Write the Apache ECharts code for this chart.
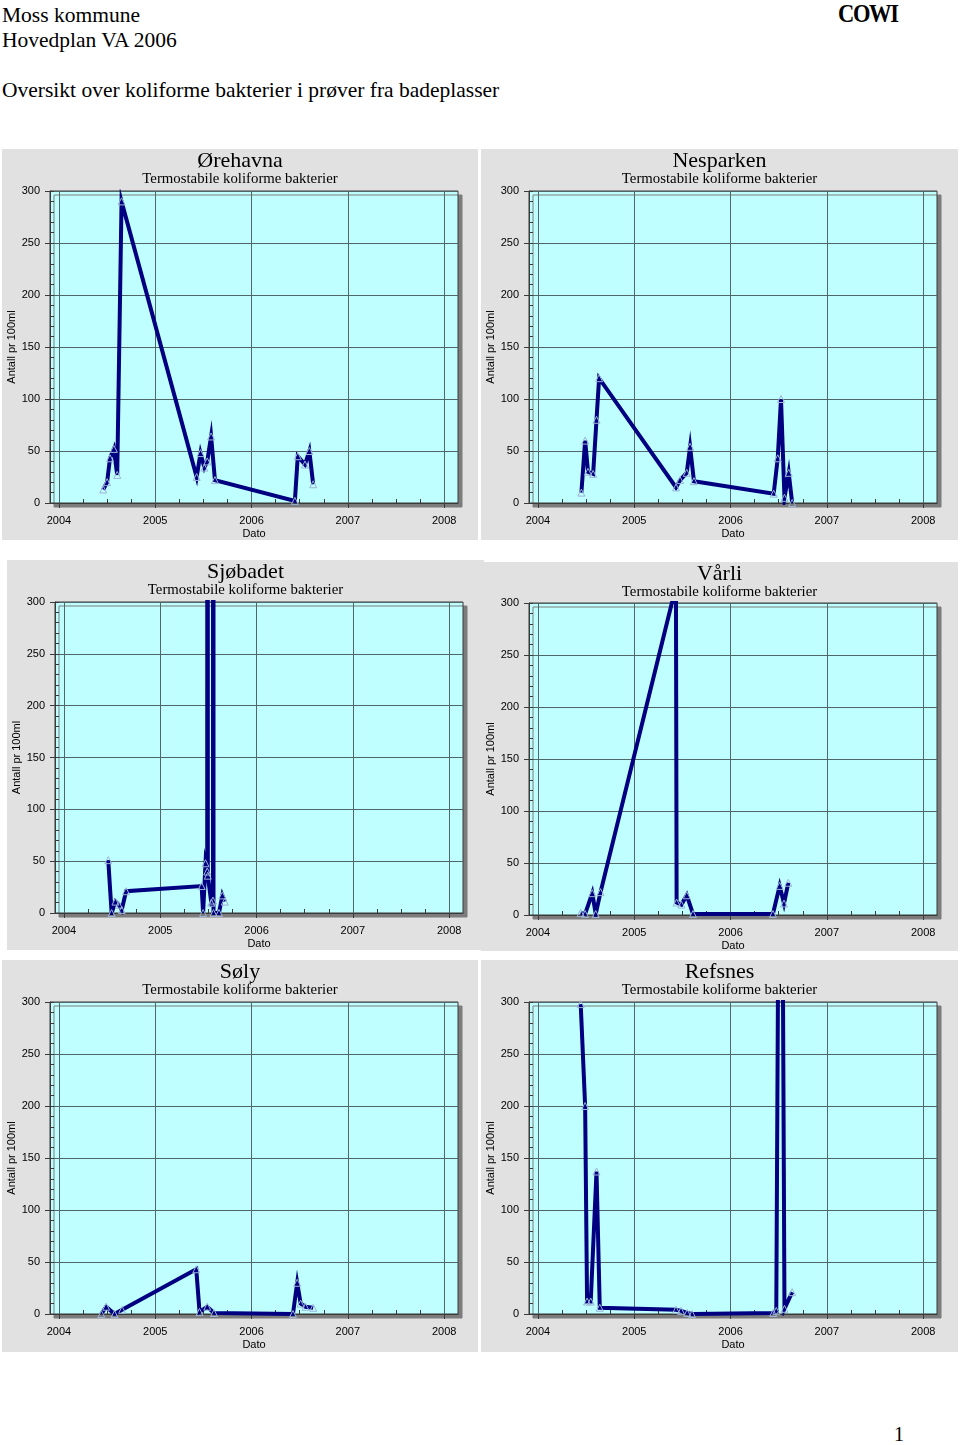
<!DOCTYPE html>
<html>
<head>
<meta charset="utf-8">
<script src="https://cdn.jsdelivr.net/npm/echarts@6/dist/echarts.min.js"></script>
<style>
  html, body { margin: 0; padding: 0; background: #ffffff; }
  body { width: 960px; height: 1445px; position: relative; overflow: hidden;
         font-family: "Liberation Serif", "Times New Roman", serif; color: #000; }
  .t { position: absolute; left: 2px; font-size: 21.5px; line-height: 21px; white-space: nowrap; }
  .cowi { position: absolute; left: 838px; top: 1px; font-size: 25px; line-height: 25px;
          letter-spacing: -1.5px; font-weight: bold; transform: scaleX(0.9); transform-origin: left top; }
  .pg { position: absolute; left: 894px; top: 1424px; font-size: 20px; line-height: 20px; }
  .p { position: absolute; }
</style>
</head>
<body>
<div class="t" style="top:5px">Moss kommune</div>
<div class="t" style="top:30px">Hovedplan VA 2006</div>
<div class="t" style="top:80px">Oversikt over koliforme bakterier i prøver fra badeplasser</div>
<div class="cowi">COWI</div>
<div class="pg">1</div>

<div id="c0" class="p"></div>
<div id="c1" class="p"></div>
<div id="c2" class="p"></div>
<div id="c3" class="p"></div>
<div id="c4" class="p"></div>
<div id="c5" class="p"></div>

<script>
// ---------- data (decimal year, count per 100 ml) ----------
const siteNames = ['Ørehavna', 'Nesparken', 'Sjøbadet', 'Vårli', 'Søly', 'Refsnes'];
const subtitle = 'Termostabile koliforme bakterier';
const yAxisName = 'Antall pr 100ml';
const xAxisName = 'Dato';

const yearTicks = [2004, 2005, 2006, 2007, 2008];
const quarterTicks = [2004.25, 2004.5, 2004.75, 2005.25, 2005.5, 2005.75,
                      2006.25, 2006.5, 2006.75, 2007.25, 2007.5, 2007.75];

const orehavna = [[2004.46,13],[2004.50,20],[2004.53,43],[2004.57,52],[2004.605,27],[2004.65,290],
  [2005.43,25],[2005.47,48],[2005.51,34],[2005.54,40],[2005.58,64],[2005.62,22],
  [2006.45,2],[2006.48,45],[2006.555,37],[2006.60,50],[2006.64,18]];

const nesparken = [[2004.451,10],[2004.49,60],[2004.52,30],[2004.573,28],[2004.608,80],[2004.635,120],
  [2005.434,15],[2005.476,22],[2005.545,29],[2005.58,54],[2005.62,21],
  [2006.448,9],[2006.49,43],[2006.524,100],[2006.56,5],[2006.604,29],[2006.64,0]];

const sjobadet = [[2004.46,51],[2004.495,0],[2004.535,11],[2004.57,8],[2004.60,3],[2004.645,21],
  [2005.43,26],[2005.445,0],[2005.47,48],[2005.488,40],[2005.491,20000],[2005.494,36],[2005.53,10],
  [2005.548,12],[2005.5505,20000],[2005.553,0],[2005.61,0],[2005.645,17],[2005.67,11]];

const varli = [[2004.443,2],[2004.49,1],[2004.564,21],[2004.60,1],[2004.65,22],[2005.433,316],
  [2005.44,12],[2005.49,10],[2005.545,19],[2005.61,1],[2006.44,1],[2006.51,28],[2006.555,11],[2006.60,31]];

const soly = [[2004.44,0],[2004.49,7],[2004.577,0],[2004.656,4],[2005.426,43],[2005.46,2],
  [2005.54,7],[2005.61,1],[2006.43,0],[2006.474,30],[2006.51,10],[2006.56,7],[2006.64,6]];

const refsnes = [[2004.444,298],[2004.49,200],[2004.51,12],[2004.548,12],[2004.608,137],[2004.642,6],
  [2005.434,4],[2005.486,3],[2005.55,1],[2005.60,0],[2006.443,1],[2006.475,3],[2006.52,800],
  [2006.56,5],[2006.64,21]];

const siteData = [orehavna, nesparken, sjobadet, varli, soly, refsnes];

// ---------- layout ----------
const panels = [
  { left: 2,   top: 149, w: 476, h: 391, gTop: 42, gH: 312 },
  { left: 481, top: 149, w: 477, h: 391, gTop: 42, gH: 312 },
  { left: 7,   top: 560, w: 477, h: 390, gTop: 42, gH: 311 },
  { left: 481, top: 562, w: 477, h: 389, gTop: 41, gH: 312 },
  { left: 2,   top: 960, w: 476, h: 392, gTop: 42, gH: 312 },
  { left: 481, top: 960, w: 477, h: 392, gTop: 42, gH: 312 }
];

const SANS = '"Liberation Sans", Arial, sans-serif';
const SERIF = '"Liberation Serif", "Times New Roman", serif';
const X_MIN = 2003.907, X_MAX = 2008.144;
const gridLineColor = '#4f6767';
const borderColor = '#3a3a3a';

function makeOption(i, p) {
  return {
    backgroundColor: '#e1e1e1',
    animation: false,
    title: {
      text: siteNames[i],
      subtext: subtitle,
      left: 'center',
      top: 1,
      padding: 0,
      itemGap: -1,
      textStyle: { fontFamily: SERIF, fontSize: 22, fontWeight: 'normal', color: '#000', lineHeight: 22 },
      subtextStyle: { fontFamily: SERIF, fontSize: 14.8, color: '#000', lineHeight: 16 }
    },
    grid: {
      left: 48, top: p.gTop, width: 408, height: p.gH,
      outerBoundsMode: 'none',
      containLabel: false,
      show: true,
      backgroundColor: '#c0ffff',
      borderColor: borderColor,
      borderWidth: 1,
      shadowColor: '#7c7c7c',
      shadowBlur: 0,
      shadowOffsetX: 4,
      shadowOffsetY: 4
    },
    xAxis: [
      {
        type: 'value', min: X_MIN, max: X_MAX, position: 'bottom',
        name: xAxisName, nameLocation: 'middle', nameGap: 25, nameMoveOverlap: false,
        nameTextStyle: { fontFamily: SANS, fontSize: 11, color: '#000' },
        axisLine: { show: true, lineStyle: { color: borderColor, width: 1 } },
        axisTick: { show: true, inside: false, length: 5, customValues: yearTicks,
                    lineStyle: { color: borderColor } },
        axisLabel: { show: true, customValues: yearTicks, margin: 12,
                     fontFamily: SANS, fontSize: 11, color: '#000',
                     formatter: v => String(Math.round(v)) },
        splitLine: { show: true, lineStyle: { color: gridLineColor, width: 1 } }
      },
      {
        type: 'value', min: X_MIN, max: X_MAX, position: 'bottom',
        axisLine: { show: false },
        axisTick: { show: true, inside: true, length: 4, customValues: quarterTicks,
                    lineStyle: { color: borderColor } },
        axisLabel: { show: false },
        splitLine: { show: false }
      }
    ],
    yAxis: [
      {
        type: 'value', min: 0, max: 300, interval: 50, position: 'left',
        name: yAxisName, nameLocation: 'middle', nameGap: 33, nameMoveOverlap: false,
        nameTextStyle: { fontFamily: SANS, fontSize: 11, color: '#000' },
        axisLine: { show: true, lineStyle: { color: borderColor, width: 1 } },
        axisTick: { show: true, inside: false, length: 5, lineStyle: { color: borderColor } },
        axisLabel: { show: true, margin: 10, fontFamily: SANS, fontSize: 11, color: '#000' },
        splitLine: { show: true, lineStyle: { color: gridLineColor, width: 1 } }
      },
      {
        type: 'value', min: 0, max: 300, interval: 10, position: 'left',
        axisLine: { show: false },
        axisTick: { show: true, inside: true, length: 4, lineStyle: { color: borderColor } },
        axisLabel: { show: false },
        splitLine: { show: false }
      }
    ],
    series: [{
      type: 'line',
      xAxisIndex: 0, yAxisIndex: 0,
      data: siteData[i],
      clip: true,
      showAllSymbol: true,
      symbol: 'triangle',
      symbolSize: 7,
      lineStyle: { color: '#000080', width: 4, join: 'miter' },
      itemStyle: { color: 'rgba(0,0,0,0)', borderColor: '#9cb4d8', borderWidth: 1 },
      emphasis: { disabled: true }
    }]
  };
}

panels.forEach((p, i) => {
  const el = document.getElementById('c' + i);
  el.style.left = p.left + 'px';
  el.style.top = p.top + 'px';
  el.style.width = p.w + 'px';
  el.style.height = p.h + 'px';
  const chart = echarts.init(el, null, { renderer: 'canvas' });
  chart.setOption(makeOption(i, p));
});
</script>
</body>
</html>
